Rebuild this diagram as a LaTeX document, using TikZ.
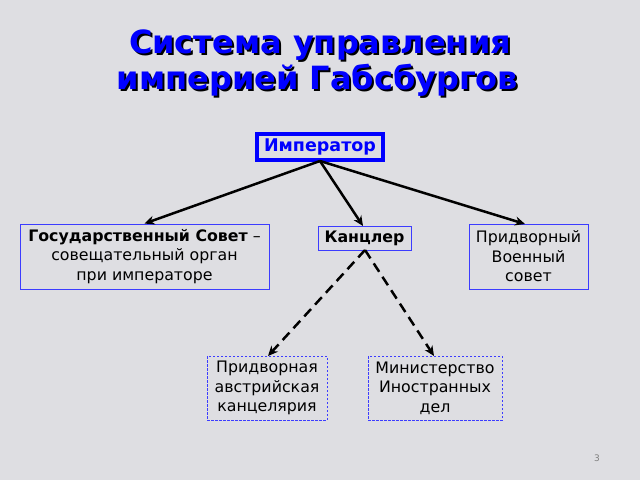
\documentclass[tikz,border=0pt]{standalone}
\usepackage{fontspec}
\setmainfont{DejaVu Sans}
\usetikzlibrary{arrows.meta}
\definecolor{bg}{RGB}{222,222,226}
\definecolor{boxblue}{RGB}{60,60,255}
\definecolor{titleblue}{RGB}{0,0,255}
\tikzset{
  x=1pt,y=-1pt,
  boxa/.style={draw=boxblue,line width=0.9pt,inner sep=0pt,font=\fontsize{15.8}{19.5}\selectfont,align=center},
  boxd/.style={draw=boxblue,line width=0.9pt,dash pattern=on 2.5pt off 1.5pt,inner sep=0pt,font=\fontsize{15.8}{19.5}\selectfont,align=center},
  conn/.style={line width=2.5pt,-{Stealth[length=10pt,width=9pt]}},
  dconn/.style={line width=2.5pt,dash pattern=on 10pt off 6pt,-{Stealth[length=10pt,width=9pt]}},
  ttl/.style={font=\fontsize{32}{37}\bfseries\selectfont},
}
\begin{document}
\begin{tikzpicture}
\fill[bg] (0,0) rectangle (640,480);
\useasboundingbox (0,0) rectangle (640,480);
% title shadow and title
\node[ttl,text=black] (t1s) at (322,47) {Система управления};
\node[ttl,text=black] (t2s) at (319.5,82) {империей Габсбургов};
\node[ttl,text=titleblue] (t1) at (320,45) {Система управления};
\node[ttl,text=titleblue] (t2) at (317.5,80) {империей Габсбургов};
% nodes
\node[draw=titleblue,line width=3.5pt,minimum width=126pt,minimum height=26pt,inner sep=0pt,text=titleblue,font=\fontsize{17.5}{20}\bfseries\selectfont] (imp) at (320,147) {Император};
\node[boxa,minimum width=249pt,minimum height=65pt] (gos) at (144.5,256.5) {\textbf{Государственный Совет} –\\совещательный орган\\при императоре};
\node[boxa,minimum width=93pt,minimum height=24pt,font=\fontsize{15.8}{19}\bfseries\selectfont] (kan) at (364.5,238) {Канцлер};
\node[boxa,minimum width=119pt,minimum height=65pt] (voen) at (528.5,256.5) {Придворный\\Военный\\совет};
\node[boxd,minimum width=120pt,minimum height=64pt] (kanc) at (267,388) {Придворная\\австрийская\\канцелярия};
\node[boxd,minimum width=134pt,minimum height=64pt] (min) at (435,388) {Министерство\\Иностранных\\дел};
\node[text=gray,font=\fontsize{9}{10}\selectfont] (pg) at (597,458) {3};
% connectors
\coordinate (impb) at (320,161);
\coordinate (kanb) at (365,250);
\draw[conn] (impb) -- (gos.north);
\draw[conn] (impb) -- (363,226);
\draw[conn] (impb) -- (525,224);
\draw[dconn] (kanb) -- (268,356);
\draw[dconn] (kanb) -- (434,356);
\end{tikzpicture}
\end{document}
